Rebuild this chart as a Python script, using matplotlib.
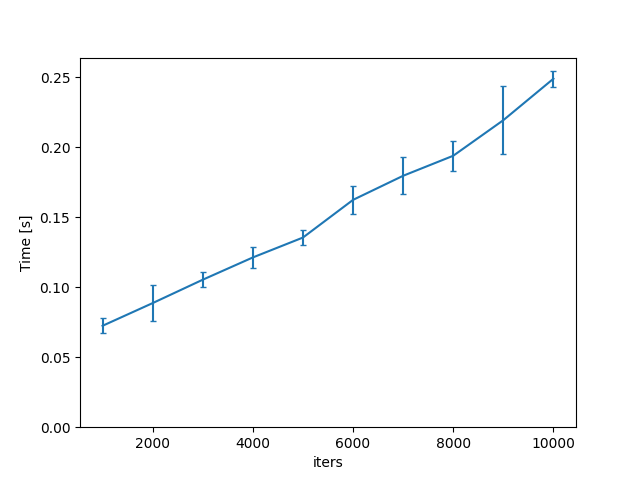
import numpy as np
import matplotlib
matplotlib.use("Agg")
import matplotlib.pyplot as plt

# iterations and timing (mean, std)
iters = [1000, 2000, 3000, 4000, 5000, 6000, 7000, 8000, 9000, 10000]
mean_time = [0.0724, 0.0886, 0.1053, 0.1212, 0.1354, 0.1623, 0.1795, 0.1938, 0.2192, 0.2488]
std_time = [0.0053, 0.0130, 0.0054, 0.0072, 0.0056, 0.0102, 0.0131, 0.0107, 0.0242, 0.0057]

fig, ax = plt.subplots(figsize=(6.4, 4.8), dpi=100)

ax.errorbar(iters, mean_time, yerr=std_time, capsize=2)

ax.set_ylim(bottom=0)
ax.set_xlabel("iters")
ax.set_ylabel("Time [s]")

fig.savefig("out.png")
